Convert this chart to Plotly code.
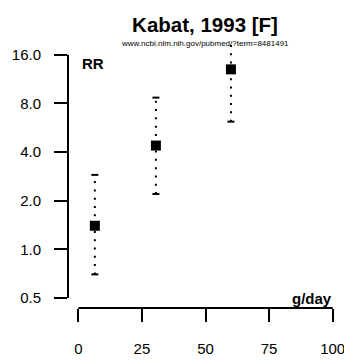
import plotly.graph_objects as go

# Data
dose = [6.5, 30.5, 60.0]          # g/day
rr = [1.40, 4.39, 13.0]           # relative risk
rr_lo = [0.70, 2.20, 6.17]        # lower CI
rr_hi = [2.89, 8.69, 21.0]        # upper CI (last one runs off the plot top)

y_ticks = [0.5, 1, 2, 4, 8, 16]
y_ticktext = ["0.5", "1.0", "2.0", "4.0", "8.0", "16.0"]
x_ticks = [0, 25, 50, 75, 100]
x_ticktext = ["0", "25", "50", "75", "100"]

title = "Kabat, 1993 [F]"
subtitle = "www.ncbi.nlm.nih.gov/pubmed/?term=8481491"

FONT = "Liberation Sans, Arial, Helvetica, sans-serif"

# the page body has an 8px margin: figure occupies (8,8)-(352,360)
W, H = 344, 352
OFF = 8

# dotted CI segments
seg_x, seg_y = [], []
for d, lo, hi in zip(dose, rr_lo, rr_hi):
    seg_x += [d, d, None]
    seg_y += [lo, hi, None]

fig = go.Figure()
fig.add_trace(go.Scatter(
    x=seg_x, y=seg_y, mode="lines",
    line=dict(color="black", width=2, dash="2px,6.3px"),
    hoverinfo="skip", showlegend=False,
))
# caps
fig.add_trace(go.Scatter(
    x=dose + dose, y=rr_lo + rr_hi, mode="markers",
    marker=dict(symbol="line-ew", size=5, line=dict(color="black", width=2)),
    hoverinfo="skip", showlegend=False, cliponaxis=True,
))
# point estimates
fig.add_trace(go.Scatter(
    x=dose, y=rr, mode="markers",
    marker=dict(symbol="square", size=10, color="black", line=dict(width=0)),
    showlegend=False, cliponaxis=False,
))

# R-style detached axis lines
fig.add_shape(type="line", xref="x", yref="paper",
              x0=x_ticks[0], x1=x_ticks[-1], y0=0, y1=0,
              line=dict(color="black", width=2))
fig.add_shape(type="line", xref="paper", yref="y",
              x0=0, x1=0, y0=y_ticks[0], y1=y_ticks[-1],
              line=dict(color="black", width=2))

fig.update_layout(
    width=W, height=H,
    margin=dict(l=68 - OFF, r=9.4, t=40 - OFF, b=51.7, pad=0, autoexpand=False),
    paper_bgcolor="white", plot_bgcolor="white",
    font=dict(family=FONT, color="black", size=15),
    title=dict(text="<b>" + title + "</b>", x=(205 - OFF) / W, xref="container",
               xanchor="center", y=1 - (25 - OFF) / H, yref="container",
               yanchor="middle", font=dict(size=20.5, family=FONT, color="black")),
    xaxis=dict(range=[-4.055, 104.055], tickvals=x_ticks, ticktext=x_ticktext,
               ticks="outside", ticklen=12.7, tickwidth=2, tickcolor="black",
               showline=False, showgrid=False, zeroline=False, automargin=False,
               ticklabelstandoff=14, tickfont=dict(size=15)),
    yaxis=dict(type="log", range=[-0.3628, 1.2956], tickvals=y_ticks,
               ticktext=y_ticktext, ticks="outside", ticklen=13, tickwidth=2,
               tickcolor="black", showline=False, showgrid=False, automargin=False,
               zeroline=False, ticklabelstandoff=10, tickfont=dict(size=15)),
    annotations=[
        dict(text=subtitle, xref="paper", yref="paper", x=0.4989, y=0.9888,
             xanchor="center", yanchor="middle", showarrow=False,
             font=dict(size=8, family=FONT, color="black")),
        dict(text="<b>RR</b>", xref="paper", yref="paper", x=0.0437, y=0.9105,
             xanchor="left", yanchor="middle", showarrow=False,
             font=dict(size=15, family=FONT, color="black")),
        dict(text="<b>g/day</b>", xref="paper", yref="paper", x=0.9687, y=0.0365,
             xanchor="right", yanchor="middle", showarrow=False,
             font=dict(size=15, family=FONT, color="black")),
    ],
)

fig.write_html("out.html")
